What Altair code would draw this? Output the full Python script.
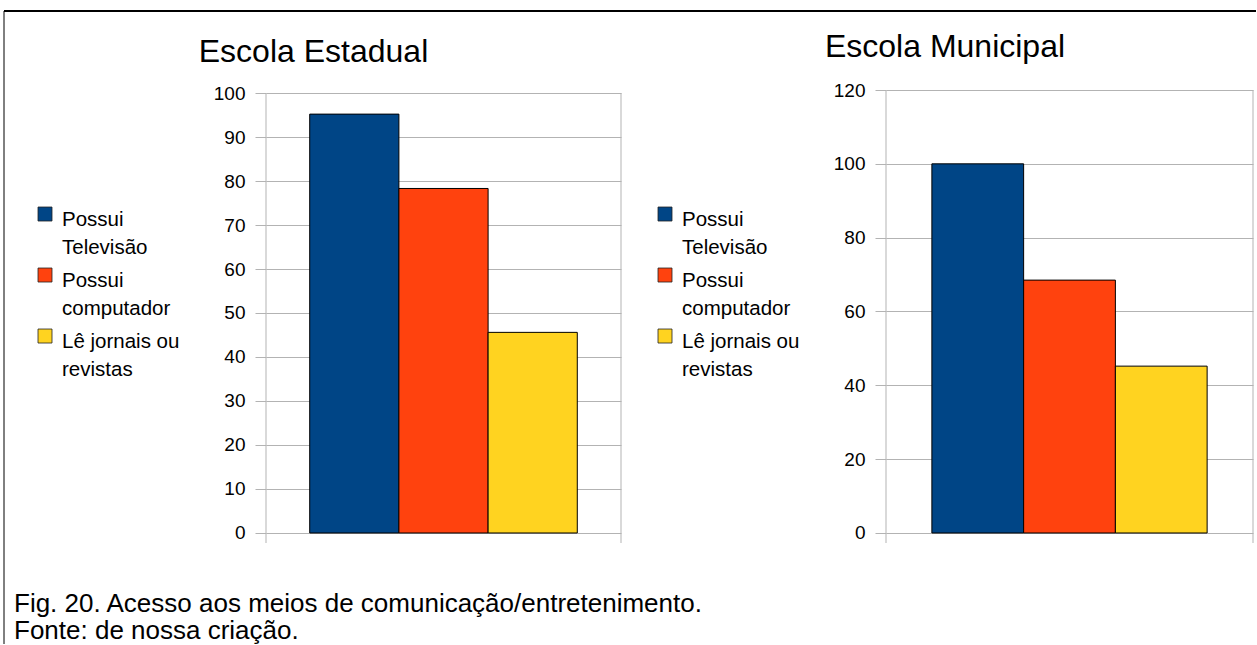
import altair as alt
import pandas as pd

# ---- data ----
categories = ["Possui Televisão", "Possui computador", "Lê jornais ou revistas"]
legend_labels = ["Possui\nTelevisão", "Possui\ncomputador", "Lê jornais ou\nrevistas"]
legend_order = [0, 1, 2]
estadual = [95.2, 78.3, 45.6]
municipal = [100.0, 68.5, 45.2]
colors = ["#004586", "#ff420e", "#ffd320"]
titles = ["Escola Estadual", "Escola Municipal"]
estadual_ticks = [0, 10, 20, 30, 40, 50, 60, 70, 80, 90, 100]
municipal_ticks = [0, 20, 40, 60, 80, 100, 120]
caption = "Fig. 20. Acesso aos meios de comunicação/entretenimento.\nFonte: de nossa criação."

FONT = "Liberation Sans"
H = 453
GRID = "#b3b3b3"

color_scale = alt.Scale(domain=categories, range=colors)


def panel(values, title, ticks, domain, pad, width, title_x, title_y):
    df = pd.DataFrame({"cat": categories, "v": values})
    y = alt.Y(
        "v:Q",
        scale=alt.Scale(domain=domain, nice=False, zero=False),
        axis=alt.Axis(
            values=ticks, title=None, grid=True, gridColor=GRID, gridWidth=1,
            tickColor=GRID, tickWidth=1, tickSize=11, labelPadding=10,
            labelFontSize=19, labelFont=FONT, labelColor="black", domain=False,
        ),
    )
    bars = alt.Chart(df).mark_bar(stroke="black", strokeWidth=1, opacity=1).encode(
        x=alt.X("cat:N", sort=categories,
                scale=alt.Scale(domain=categories, paddingInner=0, paddingOuter=pad),
                axis=None),
        y=y,
        y2=alt.datum(0),
        color=alt.Color("cat:N", scale=color_scale, legend=None),
    )
    one = pd.DataFrame({"t": [title]})
    left_edge = alt.Chart(one).mark_rule(color=GRID, strokeWidth=1).encode(
        x=alt.value(0), y=alt.datum(ticks[-1]), y2=alt.value(H))
    right_edge = alt.Chart(one).mark_rule(color=GRID, strokeWidth=1).encode(
        x=alt.value(width), y=alt.datum(ticks[-1]), y2=alt.value(H))
    ttl = alt.Chart(one).mark_text(font=FONT, fontSize=32, align="center",
                                   baseline="top", color="black").encode(
        text="t:N", x=alt.value(title_x), y=alt.value(title_y))
    return alt.layer(left_edge, right_edge, bars, ttl).properties(width=width, height=H)


def legend(with_frame):
    leg_df = pd.DataFrame({"cat": categories, "label": legend_labels, "idx": legend_order})
    ly = alt.Y("idx:Q",
               scale=alt.Scale(domain=[-2.033, 5.393], reverse=True, nice=False, zero=False),
               axis=None)
    sq = alt.Chart(leg_df).mark_square(size=196, stroke="#222", strokeWidth=0.8,
                                       opacity=1, filled=True).encode(
        x=alt.value(7), y=ly,
        color=alt.Color("cat:N", scale=color_scale, legend=None))
    tx = alt.Chart(leg_df).mark_text(align="left", baseline="top", dy=-4, fontSize=20.5,
                                     font=FONT, lineBreak="\n", lineHeight=28,
                                     color="black").encode(
        x=alt.value(24), y=ly, text="label:N")
    layers = [sq, tx]
    if with_frame:
        cap_df = pd.DataFrame({"c": [caption]})
        cap = alt.Chart(cap_df).mark_text(align="left", baseline="top", fontSize=26,
                                          font=FONT, lineBreak="\n", lineHeight=27,
                                          color="black").encode(
            x=alt.value(-24), y=alt.value(501), text="c:N")
        vline = alt.Chart(cap_df).mark_rule(color="black", strokeWidth=1).encode(
            x=alt.value(-34), y=alt.value(-79), y2=alt.value(554))
        hline = alt.Chart(cap_df).mark_rule(color="black", strokeWidth=2).encode(
            x=alt.value(-34), x2=alt.value(1218), y=alt.value(-79))
        layers += [cap, vline, hline]
    return alt.layer(*layers).properties(width=191, height=H)


left_chart = panel(estadual, titles[0], estadual_ticks, [-2.273, 100.682], 0.49, 355, 47.5, -53)
right_chart = panel(municipal, titles[1], municipal_ticks, [-2.709, 120.0], 0.5, 367, 59, -58)

chart = alt.hconcat(
    legend(True), left_chart, legend(False), right_chart,
    spacing=37, bounds="flush",
).configure_view(strokeWidth=0).properties(
    padding={"left": 3, "top": 10, "right": 0, "bottom": 0}
)

chart.save("out.html", embed_options={"renderer": "svg", "actions": False})
